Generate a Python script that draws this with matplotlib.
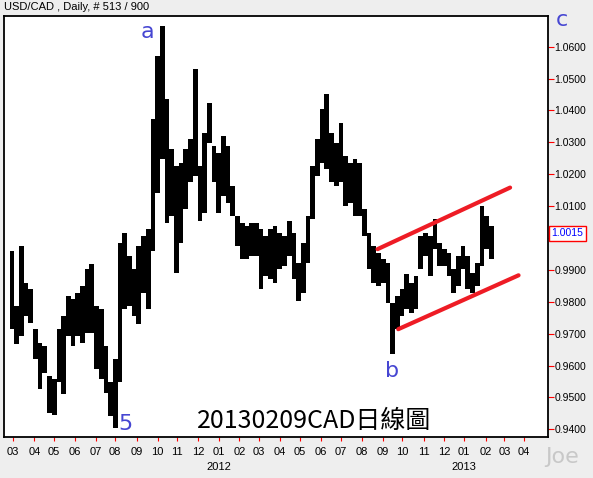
import matplotlib
matplotlib.use("Agg")
import matplotlib.pyplot as plt
import matplotlib.transforms as mtransforms
import numpy as np
import pandas as pd

# weekly high / low (first trading day 2011-02-24)
FIRST_DAY = "2011-02-24"
week_high = [
    0.9959, 0.9787, 0.9975, 0.9860, 0.9839, 0.9714, 0.9672, 0.9661, 0.9567, 0.9557,
    0.9714, 0.9755, 0.9818, 0.9808, 0.9829, 0.9850, 0.9902, 0.9917, 0.9787, 0.9776,
    0.9661, 0.9547, 0.9620, 0.9985, 1.0017, 0.9944, 0.9902, 0.9975, 1.0006, 1.0027,
    1.0372, 1.0571, 1.0665, 1.0435, 1.0278, 1.0226, 1.0236, 1.0278, 1.0309, 1.0529,
    1.0226, 1.0330, 1.0424, 1.0288, 1.0268, 1.0320, 1.0288, 1.0163, 1.0069, 1.0048,
    1.0038, 1.0048, 1.0048, 1.0027, 1.0006, 1.0027, 1.0038, 1.0017, 1.0006, 1.0053,
    1.0017, 0.9923, 0.9985, 1.0069, 1.0226, 1.0309, 1.0403, 1.0450, 1.0330, 1.0299,
    1.0362, 1.0257, 1.0236, 1.0247, 1.0236, 1.0090, 1.0017, 0.9975, 0.9954, 0.9933,
    0.9923, 0.9797, 0.9818, 0.9839, 0.9886, 0.9860, 0.9881, 1.0006, 1.0017, 1.0006,
    1.0059, 0.9985, 0.9965, 0.9954, 0.9902, 0.9944, 0.9975, 0.9944, 0.9891, 0.9923,
    1.0100, 1.0069, 1.0038,
]
week_low = [
    0.9714, 0.9667, 0.9693, 0.9755, 0.9735, 0.9620, 0.9526, 0.9578, 0.9452, 0.9444,
    0.9547, 0.9510, 0.9693, 0.9661, 0.9693, 0.9672, 0.9703, 0.9703, 0.9588, 0.9557,
    0.9515, 0.9442, 0.9405, 0.9547, 0.9776, 0.9787, 0.9755, 0.9729, 0.9829, 0.9778,
    0.9960, 1.0142, 1.0247, 1.0048, 1.0069, 0.9891, 0.9985, 1.0090, 1.0174, 1.0194,
    1.0053, 1.0079, 1.0299, 1.0174, 1.0079, 1.0132, 1.0111, 1.0069, 0.9975, 0.9933,
    0.9933, 0.9944, 0.9944, 0.9839, 0.9881, 0.9870, 0.9860, 0.9902, 0.9912, 0.9944,
    0.9870, 0.9803, 0.9829, 0.9923, 1.0059, 1.0194, 1.0236, 1.0215, 1.0174, 1.0163,
    1.0174, 1.0100, 1.0111, 1.0069, 1.0069, 1.0006, 0.9902, 0.9860, 0.9850, 0.9860,
    0.9797, 0.9635, 0.9714, 0.9755, 0.9776, 0.9766, 0.9776, 0.9902, 0.9944, 0.9881,
    0.9965, 0.9912, 0.9912, 0.9881, 0.9829, 0.9850, 0.9902, 0.9839, 0.9829, 0.9850,
    0.9912, 0.9965, 0.9933,
]

channel_upper_dates = ["2012-08-24", "2013-03-11"]
channel_upper_prices = [0.9965, 1.0158]
channel_lower_dates = ["2012-09-25", "2013-03-22"]
channel_lower_prices = [0.9714, 0.9883]

last_price = 1.0015
y_ticks = [0.94, 0.95, 0.96, 0.97, 0.98, 0.99, 1.00, 1.01, 1.02, 1.03, 1.04, 1.05, 1.06]

W, H = 593, 478
BG = "#eeeeee"
WAVE_BLUE = "#4646d2"


def fig_xy(px, py):
    return px / W, 1 - py / H


def main() -> None:
    plt.rcParams["font.family"] = ["Liberation Sans", "DejaVu Sans"]
    bdays = pd.bdate_range(FIRST_DAY, "2013-05-31")
    day_pos = lambda dates: bdays.searchsorted(pd.to_datetime(dates))

    fig = plt.figure(figsize=(W / 100, H / 100), dpi=100, facecolor=BG)
    ax = fig.add_axes([4 / W, 1 - 437 / H, 543.5 / W, 421 / H])
    ax.set_facecolor("white")

    hi = np.array(week_high)
    lo = np.array(week_low)
    centers = np.arange(len(hi)) * 5 + 2
    ax.bar(centers, hi - lo, bottom=lo, width=5, color="black", linewidth=0)

    ax.plot(day_pos(channel_upper_dates), channel_upper_prices, color="#ee1c25", linewidth=3, solid_capstyle="round")
    ax.plot(day_pos(channel_lower_dates), channel_lower_prices, color="#ee1c25", linewidth=3, solid_capstyle="round")

    ax.set_xlim(-6.4, 571.8)
    ax.set_ylim(0.9376, 1.0696)

    months = pd.date_range("2011-03-01", "2013-04-01", freq="MS")
    month_pos = day_pos(months)
    ax.set_xticks(month_pos)
    ax.set_xticklabels([m.strftime("%m") for m in months], fontsize=8)
    ax.tick_params(axis="x", colors="red", labelcolor="black", length=3, pad=4)

    ax.yaxis.tick_right()
    ax.set_yticks(y_ticks)
    ax.set_yticklabels([f"{v:.4f}" for v in y_ticks], fontsize=7.5)
    ax.tick_params(axis="y", colors="red", labelcolor="black", length=4, pad=1)

    for s in ax.spines.values():
        s.set_linewidth(1.3)
        s.set_color("black")

    trans = mtransforms.blended_transform_factory(ax.transData, ax.transAxes)
    for m, pos in zip(months, month_pos):
        if m.month == 1:
            ax.text(pos, -0.071, str(m.year), transform=trans, ha="center", va="center", fontsize=8)

    # last price tag sits on top of the 1.0000 label, as in the original
    ytrans = mtransforms.blended_transform_factory(ax.transAxes, ax.transData)
    ax.text(1.007, last_price, f"{last_price:.4f}", transform=ytrans, ha="left", va="center",
            fontsize=7.5, color="blue", zorder=10,
            bbox=dict(boxstyle="square,pad=0.25", facecolor="white", edgecolor="red", linewidth=1))

    fig.text(*fig_xy(4, 7), "USD/CAD , Daily, # 513 / 900", fontsize=8, ha="left", va="center")

    for label, px, py in [("a", 147, 38), ("5", 125, 430), ("b", 392, 377), ("c", 562, 26)]:
        fig.text(*fig_xy(px, py), label, fontsize=16, color=WAVE_BLUE, ha="center", va="baseline",
                 family=["DejaVu Sans"])

    fig.text(*fig_xy(314, 428), "20130209CAD日線圖", fontsize=18, ha="center", va="baseline",
             family=["Noto Sans CJK TC", "DejaVu Sans"])
    fig.text(*fig_xy(562, 463), "Joe", fontsize=16, color="#c8c8c8", ha="center", va="baseline",
             family=["DejaVu Sans"])

    fig.savefig("out.png", dpi=100, facecolor=BG)
    plt.close(fig)


if __name__ == "__main__":
    main()
